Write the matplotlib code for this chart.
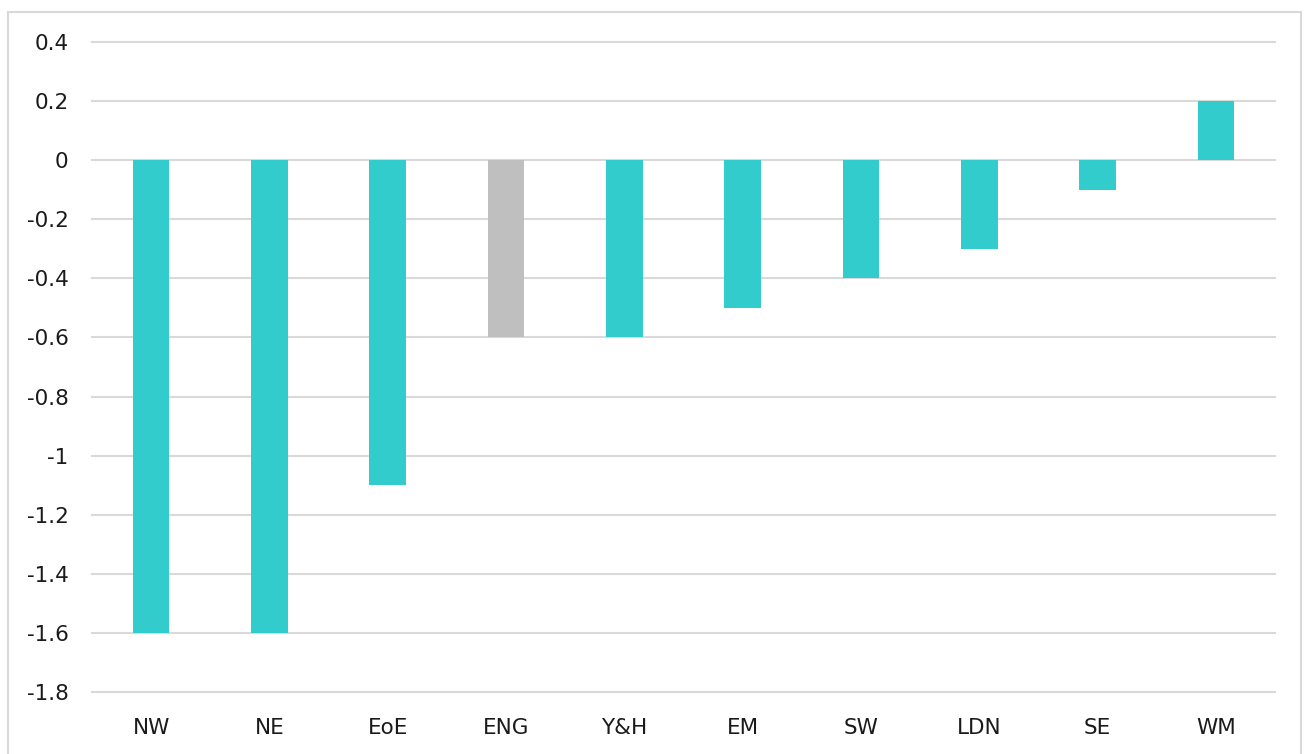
import matplotlib.pyplot as plt
from matplotlib.patches import Rectangle

regions = ['NW', 'NE', 'EoE', 'ENG', 'Y&H', 'EM', 'SW', 'LDN', 'SE', 'WM']
change = [-1.6, -1.6, -1.1, -0.6, -0.6, -0.5, -0.4, -0.3, -0.1, 0.2]
yticks = [0.4, 0.2, 0, -0.2, -0.4, -0.6, -0.8, -1, -1.2, -1.4, -1.6, -1.8]

teal = '#33CCCC'
grey = '#BFBFBF'
colours = [grey if r == 'ENG' else teal for r in regions]

plt.rcParams['font.family'] = ['DejaVu Sans']

W, H = 1304, 754
fig = plt.figure(figsize=(W / 100, H / 100), dpi=100)
ax = fig.add_axes([92 / W, 1 - 692 / H, (1275 - 92) / W, (692 - 42) / H])

ax.bar(range(len(regions)), change, width=0.31, color=colours, zorder=3)

ax.set_xlim(-0.5, len(regions) - 0.5)
ax.set_ylim(-1.8, 0.4)
ax.set_yticks(yticks)
ax.set_yticklabels([('%g' % v) for v in yticks])
ax.set_xticks(range(len(regions)))
ax.set_xticklabels(regions)
ax.yaxis.grid(True, color='#D9D9D9', linewidth=1.5, zorder=0)
for g in ax.get_ygridlines():
    g.set_clip_on(False)
ax.tick_params(axis='both', length=0, labelsize=15.5, colors='#1a1a1a')
ax.tick_params(axis='y', pad=17)
ax.tick_params(axis='x', pad=19)
for s in ax.spines.values():
    s.set_visible(False)

# light frame around the whole chart
fig.patches.append(Rectangle((7.5 / W, -0.05), (1301 - 7.5) / W, 1.05 - 12 / H,
                             transform=fig.transFigure, fill=False,
                             edgecolor='#D9D9D9', linewidth=1.5))

fig.savefig('out.png', dpi=100)
